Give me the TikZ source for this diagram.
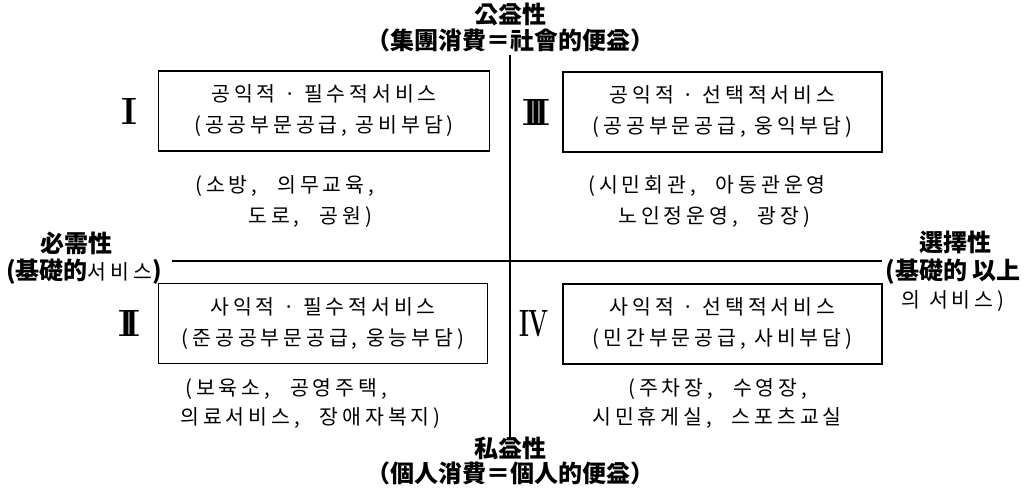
\documentclass[tikz,border=0pt]{standalone}
\usepackage{fontspec}
\newfontfamily\krfont[LetterSpace=19]{Noto Sans CJK KR}
\newfontfamily\hjfont{Noto Sans CJK KR}
\usetikzlibrary{positioning}
\newcommand\hg[1]{{\krfont\mdseries\fontsize{20.5}{22}\selectfont #1}}

\begin{document}
\begin{tikzpicture}[x=1pt, y=-1pt, >=latex, thick]
\tikzstyle{quad} = [rectangle, draw, line width=1.2pt, minimum height=80pt, align=center, inner sep=0pt, font=\krfont\fontsize{20.5}{31}\selectfont, execute at begin node=\rule{0pt}{26pt}]
\tikzstyle{roman} = [inner sep=0pt, font=\bfseries\fontsize{38}{38}\selectfont]
\tikzstyle{note} = [anchor=west, inner sep=0pt, font=\krfont\fontsize{20.5}{22}\selectfont]
\tikzstyle{label} = [inner sep=0pt, align=center, font=\hjfont\bfseries\fontsize{24}{28}\selectfont]
\tikzstyle{axisline} = [line width=1.2pt]

\useasboundingbox (0,0) rectangle (1031,491);

% axis labels
\node[label] (pub) at (510,14) {公益性};
\node[label] (pubsub) at (510,40) {（集團消費＝社會的便益）};
\node[label] (priv) at (510,448) {私益性};
\node[label] (privsub) at (510,473) {（個人消費＝個人的便益）};
\node[label] (need) at (76,243) {必需性};
\node[label] (needsub) at (84,272) {(基礎的\hg{서비스})};
\node[label] (choice) at (955,242) {選擇性};
\node[label] (choicesub) at (953,285) {(基礎的 以上\\\hg{의 서비스)}};

% quadrants
\node[quad, minimum width=331pt] (boxI) at (324,111) {공익적 · 필수적서비스\\(공공부문공급, 공비부담)};
\node[quad, minimum width=319pt] (boxIII) at (722.5,112) {공익적 · 선택적서비스\\(공공부문공급, 웅익부담)};
\node[quad, minimum width=329pt] (boxII) at (323,323.5) {사익적 · 필수적서비스\\(준공공부문공급, 웅능부담)};
\node[quad, minimum width=319pt] (boxIV) at (722.5,324) {사익적 · 선택적서비스\\(민간부문공급, 사비부담)};

\node[roman, left=20pt of boxI] (numI) {I};
\node[roman, left=12pt of boxIII] (numIII) {I\kern-10pt I\kern-10pt I};
\node[roman, left=17pt of boxII] (numII) {I\kern-10pt I};
\node[roman, left=13pt of boxIV] (numIV) {\scalebox{0.62}[1]{IV}};

% examples
\node[note] (noteIa) at (195,186) {(소방,\hspace{20pt}의무교육,};
\node[note] (noteIb) at (248,217) {도로,\hspace{20pt}공원)};
\node[note] (noteIIIa) at (588,186) {(시민회관,\hspace{20pt}아동관운영};
\node[note] (noteIIIb) at (618,217) {노인정운영,\hspace{20pt}광장)};
\node[note] (noteIIa) at (185,389) {(보육소,\hspace{20pt}공영주택,};
\node[note] (noteIIb) at (180,418) {의료서비스,\hspace{20pt}장애자복지)};
\node[note] (noteIVa) at (628,389) {(주차장,\hspace{20pt}수영장,};
\node[note] (noteIVb) at (592,418) {시민휴게실,\hspace{20pt}스포츠교실};

\coordinate (hleft) at (172,261);
\coordinate (hright) at (882,261);

\draw[axisline, shorten <=3pt, shorten >=-3pt] (pubsub.south) -- (priv.north);
\draw[axisline] (hleft) -- (hright);
\end{tikzpicture}
\end{document}
